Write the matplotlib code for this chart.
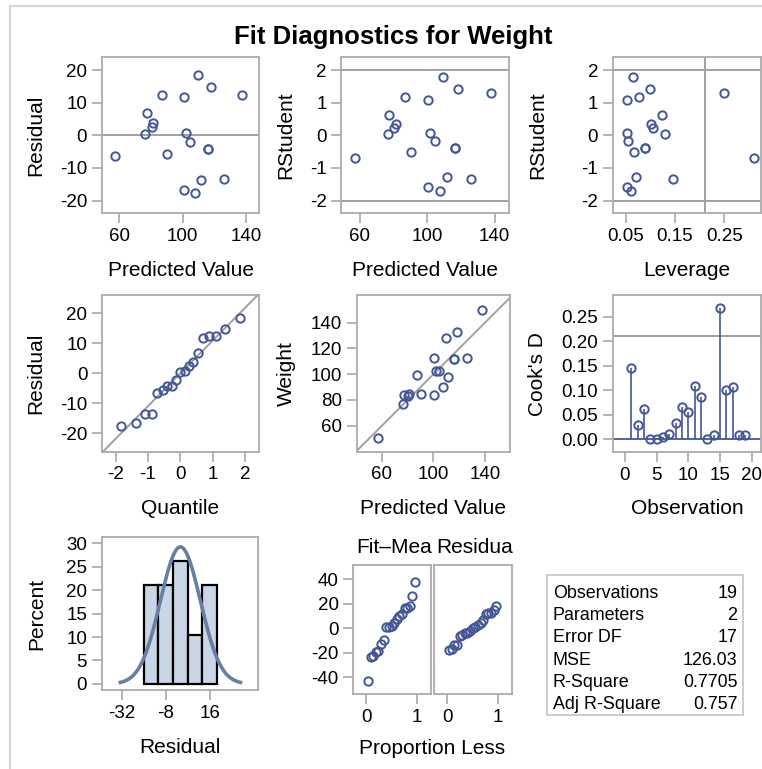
import numpy as np
import matplotlib
matplotlib.use('Agg')
import matplotlib.pyplot as plt
from matplotlib.lines import Line2D

plt.rcParams['font.family'] = ['Liberation Sans', 'DejaVu Sans']
plt.rcParams['axes.unicode_minus'] = False

# ---------------- data (sashelp.class regression Weight ~ Height) ----------------
predicted = [126.006, 77.268, 111.580, 101.832, 104.561, 80.387, 90.135, 100.662, 100.662,
             87.016, 56.993, 107.681, 76.488, 116.258, 137.703, 109.630, 118.208, 81.167, 116.258]
weight = [112.5, 84.0, 98.0, 102.5, 102.5, 83.0, 84.5, 112.5, 84.0, 99.5, 50.5, 90.0,
          77.0, 112.0, 150.0, 128.0, 133.0, 85.0, 112.0]
residual = [-13.506, 6.732, -13.580, 0.668, -2.061, 2.613, -5.635, 11.838, -16.662, 12.484,
            -6.493, -17.681, 0.512, -4.258, 12.297, 18.370, 14.792, 3.833, -4.258]
rstudent = [-1.332, 0.630, -1.278, 0.059, -0.184, 0.239, -0.508, 1.089, -1.592, 1.169,
            -0.685, -1.715, 0.047, -0.387, 1.289, 1.801, 1.430, 0.351, -0.387]
leverage = [0.1465, 0.1246, 0.0712, 0.0531, 0.0555, 0.1063, 0.0662, 0.0527, 0.0527, 0.0762,
            0.3101, 0.0608, 0.1297, 0.0893, 0.2500, 0.0655, 0.0986, 0.1021, 0.0893]
cooks_d = [0.1455, 0.0293, 0.0604, 0.0001, 0.0011, 0.0036, 0.0096, 0.0327, 0.0647, 0.0552,
           0.1090, 0.0855, 0.0002, 0.0077, 0.2667, 0.1003, 0.1053, 0.0074, 0.0077]
observation = list(range(1, 20))

qq_quantile = [-1.846, -1.376, -1.097, -0.884, -0.706, -0.547, -0.401, -0.263, -0.130, 0.0,
               0.130, 0.263, 0.401, 0.547, 0.706, 0.884, 1.097, 1.376, 1.846]
sorted_residual = [-17.681, -16.662, -13.580, -13.506, -6.493, -5.635, -4.258, -4.258, -2.061,
                   0.512, 0.668, 2.613, 3.833, 6.732, 11.838, 12.297, 12.484, 14.792, 18.370]
proportion_less = [0.032, 0.084, 0.136, 0.188, 0.240, 0.292, 0.344, 0.396, 0.448, 0.500,
                   0.552, 0.604, 0.656, 0.708, 0.760, 0.812, 0.864, 0.916, 0.968]
fit_minus_mean = [-43.033, -23.538, -22.758, -19.639, -18.859, -13.010, -9.891, 0.636, 0.636,
                  1.806, 4.535, 7.655, 9.604, 11.554, 16.232, 16.232, 18.182, 25.980, 37.677]

hist_mid = [-16, -8, 0, 8, 16]
hist_pct = [21.05, 21.05, 26.32, 10.53, 21.05]
hist_width = 8
resid_mean = 0.0
resid_sd = 10.91
qq_slope = 10.91

rstudent_cut = 2.0
leverage_cut = 0.2105
cooks_cut = 0.2105

stat_names = ['Observations', 'Parameters', 'Error DF', 'MSE', 'R-Square', 'Adj R-Square']
stat_values = ['19', '2', '17', '126.03', '0.7705', '0.757']

# ---------------- figure ----------------
W, H = 762, 769
DPI = 100
fig = plt.figure(figsize=(W / DPI, H / DPI), dpi=DPI)

BLUE = '#445694'
GRAY = '#A0A0A0'
FRAME = '#ABABAB'
TICK_FS = 13.5
LAB_FS = 15


def add_ax(l, t, r, b):
    return fig.add_axes([l / W, 1 - b / H, (r - l) / W, (b - t) / H])


def style(ax):
    for s in ax.spines.values():
        s.set_color(FRAME)
        s.set_linewidth(1.3)
    ax.tick_params(direction='out', length=7, width=1.1, color=GRAY,
                   labelsize=TICK_FS, pad=3.5)


def scatter(ax, x, y):
    ax.plot(x, y, 'o', ms=6.0, mfc='none', mec=BLUE, mew=1.4, zorder=3)


def xlabel(ax, text, base):
    bb = ax.get_position()
    fig.text((bb.x0 + bb.x1) / 2, 1 - base / H, text, ha='center', va='baseline', fontsize=LAB_FS)


def ylabel(ax, text, xc):
    bb = ax.get_position()
    fig.text(xc / W, (bb.y0 + bb.y1) / 2, text, ha='center', va='center', rotation=90, fontsize=LAB_FS)


# border
fig.add_artist(Line2D([10 / W, 10 / W], [0, 1 - 6 / H], transform=fig.transFigure, color='#D6D6D6', lw=1.5))
fig.add_artist(Line2D([10 / W, 1], [1 - 6 / H, 1 - 6 / H], transform=fig.transFigure, color='#D6D6D6', lw=1.5))

fig.text(393.5 / W, 1 - 44 / H, 'Fit Diagnostics for Weight', ha='center', va='baseline',
         fontsize=18.5, fontweight='bold')

# Row 1 ---------------------------------------------------------------
ax = add_ax(101.7, 57.3, 259.3, 213.3)
style(ax)
ax.axhline(0, color=GRAY, lw=1.4)
scatter(ax, predicted, residual)
ax.set_xlim(48.9, 148.4); ax.set_ylim(-23.9, 23.9)
ax.set_xticks([60, 100, 140]); ax.set_yticks([-20, -10, 0, 10, 20])
xlabel(ax, 'Predicted Value', 276.5); ylabel(ax, 'Residual', 35.5)

ax = add_ax(341.3, 57.3, 508.7, 213.3)
style(ax)
ax.axhline(rstudent_cut, color=GRAY, lw=1.4); ax.axhline(-rstudent_cut, color=GRAY, lw=1.4)
scatter(ax, predicted, rstudent)
ax.set_xlim(48.9, 148.4); ax.set_ylim(-2.39, 2.39)
ax.set_xticks([60, 100, 140]); ax.set_yticks([-2, -1, 0, 1, 2])
xlabel(ax, 'Predicted Value', 276.5); ylabel(ax, 'RStudent', 286)

ax = add_ax(612.7, 57.3, 761.2, 213.3)
style(ax)
ax.axhline(rstudent_cut, color=GRAY, lw=1.4); ax.axhline(-rstudent_cut, color=GRAY, lw=1.4)
ax.axvline(leverage_cut, color=GRAY, lw=1.4)
scatter(ax, leverage, rstudent)
ax.set_xlim(0.0236, 0.325); ax.set_ylim(-2.39, 2.39)
ax.set_xticks([0.05, 0.15, 0.25]); ax.set_xticklabels(['0.05', '0.15', '0.25'])
ax.set_yticks([-2, -1, 0, 1, 2])
xlabel(ax, 'Leverage', 276.5); ylabel(ax, 'RStudent', 537.5)

# Row 2 ---------------------------------------------------------------
ax = add_ax(102, 295, 259, 451.7)
style(ax)
ax.axline((0, resid_mean), slope=qq_slope, color=GRAY, lw=1.4)
scatter(ax, qq_quantile, sorted_residual)
ax.set_xlim(-2.42, 2.43); ax.set_ylim(-26.1, 26.1)
ax.set_xticks([-2, -1, 0, 1, 2]); ax.set_yticks([-20, -10, 0, 10, 20])
xlabel(ax, 'Quantile', 513.5); ylabel(ax, 'Residual', 36)

ax = add_ax(356.8, 295, 509.7, 451.7)
style(ax)
ax.axline((60, 60), slope=1, color=GRAY, lw=1.4)
scatter(ax, predicted, weight)
ax.set_xlim(40.6, 159.1); ax.set_ylim(39.9, 161.4)
ax.set_xticks([60, 100, 140]); ax.set_yticks([60, 80, 100, 120, 140])
xlabel(ax, 'Predicted Value', 513.5); ylabel(ax, 'Weight', 286)

ax = add_ax(612.7, 295, 761.2, 452.3)
style(ax)
ax.axhline(cooks_cut, color=GRAY, lw=1.4)
ax.axhline(0, color=BLUE, lw=1.3)
ax.vlines(observation, 0, cooks_d, color=BLUE, lw=1.2)
scatter(ax, observation, cooks_d)
ax.set_xlim(-1.93, 21.5); ax.set_ylim(-0.027, 0.294)
ax.set_xticks([0, 5, 10, 15, 20])
ax.set_yticks([0, 0.05, 0.10, 0.15, 0.20, 0.25])
ax.set_yticklabels(['0.00', '0.05', '0.10', '0.15', '0.20', '0.25'])
xlabel(ax, 'Observation', 513.5); ylabel(ax, "Cook's D", 537.5)

# Row 3 ---------------------------------------------------------------
ax = add_ax(101.7, 537.3, 258, 690)
style(ax)
ax.bar(hist_mid, hist_pct, width=hist_width, color='#CAD5E5', edgecolor='black', lw=1.6, zorder=2)
xs = np.linspace(resid_mean - 3 * resid_sd, resid_mean + 3 * resid_sd, 200)
dens = 100 * hist_width / (resid_sd * np.sqrt(2 * np.pi)) * np.exp(-0.5 * ((xs - resid_mean) / resid_sd) ** 2)
ax.plot(xs, dens, color='#667FA2', lw=2.6, zorder=3)
ax.set_xlim(-42.9, 42.3); ax.set_ylim(-1.3, 31.3)
ax.set_xticks([-32, -8, 16]); ax.set_yticks([0, 5, 10, 15, 20, 25, 30])
xlabel(ax, 'Residual', 753); ylabel(ax, 'Percent', 37)

axl = add_ax(353.3, 565, 430.8, 694.3)
axr = add_ax(434.3, 565, 512, 694.3)
for a, yy in ((axl, fit_minus_mean), (axr, sorted_residual)):
    style(a)
    scatter(a, proportion_less, yy)
    a.set_xlim(-0.26, 1.28); a.set_ylim(-53.8, 51.4)
    a.set_xticks([0, 1])
    a.set_yticks([-40, -20, 0, 20, 40])
axr.tick_params(axis='y', left=False, labelleft=False)
fig.text(356.5 / W, 1 - 553 / H, 'Fit\u2013Mea', ha='left', va='baseline', fontsize=LAB_FS)
fig.text(436.5 / W, 1 - 553 / H, 'Residua', ha='left', va='baseline', fontsize=LAB_FS)
fig.text(432.5 / W, 1 - 754 / H, 'Proportion Less', ha='center', va='baseline', fontsize=LAB_FS)

# Stats table
axt = add_ax(546.7, 575, 743.3, 715)
axt.set_xticks([]); axt.set_yticks([])
for s in axt.spines.values():
    s.set_color('#C8C8C8'); s.set_linewidth(1.3)
axt.set_xlim(546.7, 743.3); axt.set_ylim(715, 575)
for i, (n, v) in enumerate(zip(stat_names, stat_values)):
    yb = 598 + i * 22.2
    axt.text(552.7, yb, n, ha='left', va='baseline', fontsize=12.9)
    axt.text(737.5, yb, v, ha='right', va='baseline', fontsize=12.9)

fig.savefig('out.png', dpi=DPI)
